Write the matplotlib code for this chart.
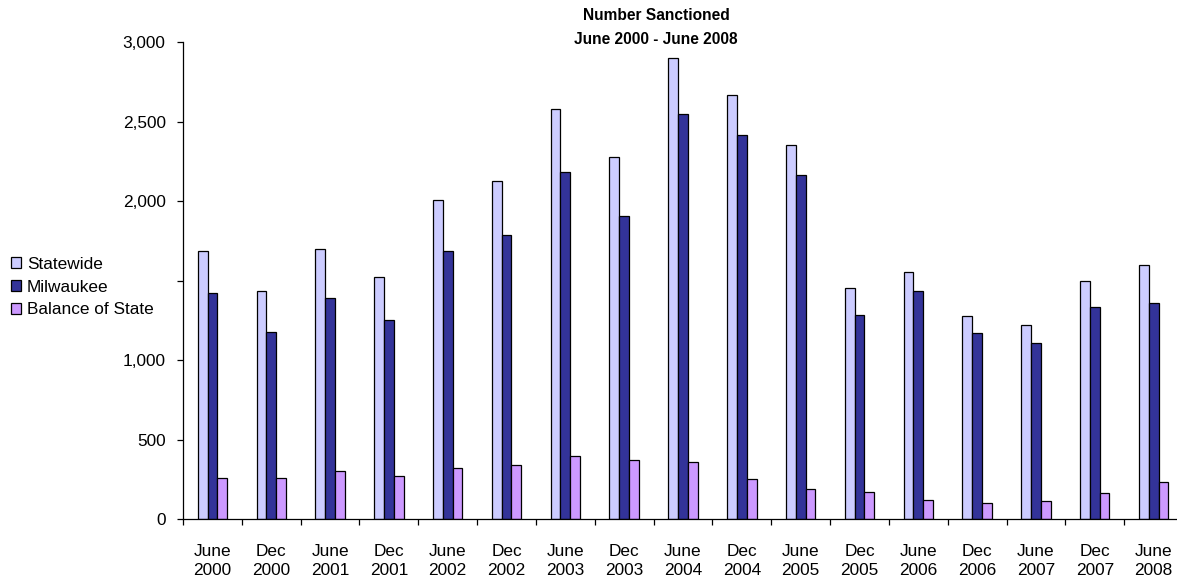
import matplotlib
matplotlib.use('Agg')
import matplotlib.pyplot as plt
from matplotlib import font_manager
import numpy as np
from matplotlib.patches import Patch

plt.rcParams['font.family'] = ['Liberation Sans', 'DejaVu Sans']
plt.rcParams['font.size'] = 12.4

# periodos (junho / dezembro)
periodos = ['June\n2000', 'Dec\n2000', 'June\n2001', 'Dec\n2001', 'June\n2002', 'Dec\n2002',
            'June\n2003', 'Dec\n2003', 'June\n2004', 'Dec\n2004', 'June\n2005', 'Dec\n2005',
            'June\n2006', 'Dec\n2006', 'June\n2007', 'Dec\n2007', 'June\n2008']

statewide = [1683, 1434, 1696, 1524, 2004, 2128, 2581, 2279, 2901, 2669, 2350, 1451,
             1555, 1276, 1220, 1499, 1595]
milwaukee = [1423, 1178, 1392, 1251, 1683, 1786, 2180, 1908, 2545, 2415, 2161, 1281,
             1434, 1169, 1105, 1331, 1360]
balance = [256, 256, 302, 272, 321, 340, 398, 369, 356, 250, 187, 169,
           118, 103, 113, 166, 231]

nomes = ['Statewide', 'Milwaukee', 'Balance of State']
cores = ['#CCCCFF', '#333399', '#CC99FF']

# titulo em fonte estreita se houver
instaladas = {f.name for f in font_manager.fontManager.ttflist}
if 'Liberation Sans Narrow' in instaladas:
    fonte_tit, tam_tit = 'Liberation Sans Narrow', 12.6
else:
    fonte_tit, tam_tit = 'Liberation Sans', 11.2

W, H = 1177, 582
fig = plt.figure(figsize=(W / 100, H / 100), dpi=100)
# eixo vai um pouco alem da borda direita, como no original
ax = fig.add_axes([183 / W, (H - 519) / H, 1000 / W, 477 / H])

x = np.arange(len(periodos))
larg = 0.167
for i, (serie, cor) in enumerate(zip([statewide, milwaukee, balance], cores)):
    ax.bar(x + (i - 1) * larg, serie, width=larg, color=cor, edgecolor='black',
           linewidth=0.9, zorder=2)

ax.set_xlim(-0.5, len(periodos) - 0.5)
ax.set_ylim(0, 3000)

ax.spines['top'].set_visible(False)
ax.spines['right'].set_visible(False)
ax.spines['left'].set_linewidth(0.9)
ax.spines['bottom'].set_linewidth(0.9)

yt = [0, 500, 1000, 1500, 2000, 2500, 3000]
ax.set_yticks(yt)
ax.set_yticklabels(['' if v == 1500 else f'{v:,}' for v in yt])
ax.tick_params(axis='y', direction='out', length=4.5, width=0.9, pad=8)

ax.set_xticks(x)
ax.set_xticklabels(periodos, linespacing=1.35)
ax.set_xticks(np.arange(len(periodos)) - 0.5, minor=True)
ax.tick_params(axis='x', which='major', length=0, pad=18)
ax.tick_params(axis='x', which='minor', direction='out', length=4.5, width=0.9)

fig.text(656 / W, 1 - 16 / H, 'Number Sanctioned', ha='center', va='center',
         fontweight='bold', fontsize=tam_tit, family=fonte_tit)
fig.text(656 / W, 1 - 40 / H, 'June 2000 - June 2008', ha='center', va='center',
         fontweight='bold', fontsize=tam_tit, family=fonte_tit)

handles = [Patch(facecolor=c, edgecolor='black', linewidth=0.9, label=n)
           for n, c in zip(nomes, cores)]
fig.legend(handles=handles, loc='center left', bbox_to_anchor=(-5 / W, 1 - 287 / H),
           frameon=False, handlelength=0.6, handleheight=0.6, handletextpad=0.35,
           labelspacing=0.45, fontsize=12.4)

fig.savefig('out.png', dpi=100)
